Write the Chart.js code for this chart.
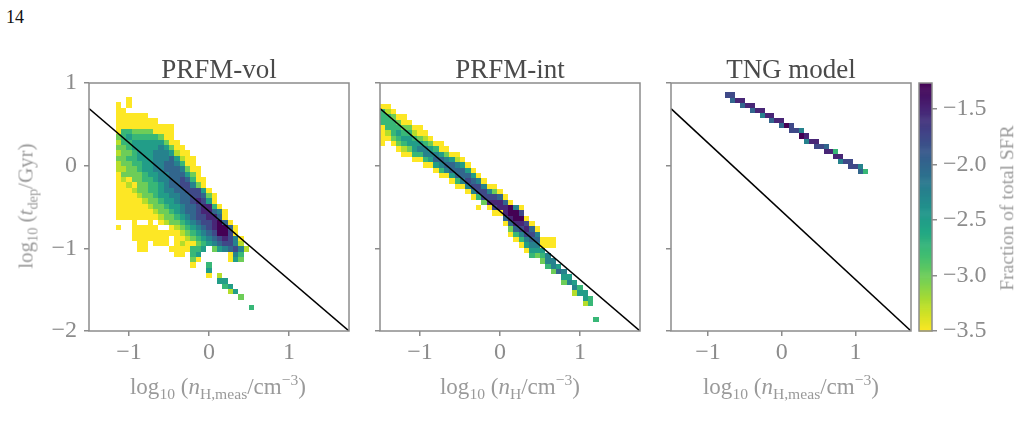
<!DOCTYPE html>
<html>
<head>
<meta charset="utf-8">
<script src="https://cdn.jsdelivr.net/npm/chart.js@4.4.1/dist/chart.umd.min.js"></script>
<style>
  body { margin: 0; background: #fff; width: 1022px; height: 427px; overflow: hidden; position: relative; font-family: "Liberation Serif", serif; }
  canvas { position: absolute; left: 0; top: 0; }
  .txt { position: absolute; white-space: nowrap; line-height: 1; transform: translate(-50%, -50%); }
  .title { font-size: 27px; color: #4a4a4a; }
  .lab { font-size: 23px; color: #9a9a9a; }
  .rot { transform: translate(-50%, -50%) rotate(-90deg); }
  sub, sup { font-size: 0.68em; line-height: 0; }
  sub { vertical-align: -0.35em; }
  sup { vertical-align: 0.55em; }
  #page { position: absolute; left: 6px; top: 7px; font-size: 18px; color: #111; }
</style>
</head>
<body>
<div id="page">14</div>
<canvas id="vol" width="1022" height="427"></canvas>
<canvas id="int" width="1022" height="427"></canvas>
<canvas id="tng" width="1022" height="427"></canvas>
<canvas id="cbar" width="1022" height="427"></canvas>

<div class="txt title" style="left:219px; top:69px;">PRFM-vol</div>
<div class="txt title" style="left:510px; top:69px;">PRFM-int</div>
<div class="txt title" style="left:791px; top:69px;">TNG model</div>

<div class="txt lab rot" style="left:26px; top:206px; font-size:21px;">log<sub>10</sub> (<i>t</i><sub>dep</sub>/Gyr)</div>
<div class="txt lab" style="left:218px; top:386px;">log<sub>10</sub> (<i>n</i><sub>H,meas</sub>/cm<sup>−3</sup>)</div>
<div class="txt lab" style="left:510px; top:386px;">log<sub>10</sub> (<i>n</i><sub>H</sub>/cm<sup>−3</sup>)</div>
<div class="txt lab" style="left:791px; top:386px;">log<sub>10</sub> (<i>n</i><sub>H,meas</sub>/cm<sup>−3</sup>)</div>
<div class="txt lab rot" style="left:1007px; top:208px; font-size:19.5px;">Fraction of total SFR</div>

<script>
// ===== DATA =====
const xTicks = [-1, 0, 1];
const yTicks = [-2, -1, 0, 1];
const cbTicks = [-3.5, -3.0, -2.5, -2.0, -1.5];
const xRange = [-1.5, 1.75];
const yRange = [-2, 1];
const cbRange = [-3.5, -1.265];

// reference relation drawn in every panel
const lineX = [-1.5, 1.75];
const lineY = [0.69, -2.0];

// cell code 0..9 -> log10 fraction of total SFR
const levels = [-3.5, -3.25, -3.0, -2.75, -2.5, -2.25, -2.0, -1.75, -1.5, -1.25];

// bins (data units)
const binW = 1 / 15;
const volGrid = { x0: -1.1667, y0: 0.83, dy: 0.0645 };
const intGrid = { x0: -1.5, y0: 0.75, dy: 0.0645 };
const tngGrid = { x0: -1.5, y0: 0.886, dy: 0.062 };

// PRFM-vol: one string per row (top to bottom), one char per column, '.' = empty
const volRows = [
  "..0",
  "0.0",
  "00",
  "000000",
  "00000000",
  "00000000000",
  "03322220000",
  "23433333200",
  "133444444200",
  "2234444454200",
  "12234445554100",
  "223344455564100",
  "122334455665300",
  "1122344556665200",
  "0222234455666420",
  "01022334556676300",
  "00102233456677520",
  "000122334556677740",
  "0000122344556677620",
  "0000012234456678740",
  "00000012234456678830",
  "000000012234566788650",
  "000000001223456778860",
  "...0..0.01223456778960",
  "0..00000..0123456789960",
  "...00000000012345679970",
  "...0000000.0012345678750",
  "....00.000.0100234567751",
  "....00....0000334.2456751",
  "...........00.34.....053",
  "..............20.....042",
  "..............0..3",
  ".................4",
  ".................0.1",
  "...................44",
  "....................34",
  ".....................14",
  ".......................2",
  "",
  ".........................3"
];

// PRFM-int: [column, first row, codes down the column]
const intCols = [
  [0, 0, "03330000"], [1, 0, "0133310"], [2, 1, "0233320"], [3, 2, "0234320"],
  [4, 2, "00234310"], [5, 3, "0234420"], [6, 4, "0134430"], [7, 4, "0024530"],
  [8, 5, "0135530"], [9, 6, "024540"], [10, 7, "035640"], [11, 7, "0046530"],
  [12, 8, "025650"], [13, 9, "046640"], [14, 9, "0156630"], [15, 10, "046650"],
  [16, 11, "046750"], [17, 12, "046750"], [18, 13, "05773.0"], [19, 14, "05772"],
  [20, 15, "05780"], [21, 15, "027870"], [22, 16, "06880"], [23, 17, "068860"],
  [24, 18, "0998620"], [25, 19, "5998630"], [26, 19, "07987530"], [27, 21, "0787540"],
  [28, 22, "0676543"], [29, 23, "056542"], [30, 25, "00432"], [31, 25, "00.553"],
  [32, 25, "00..552"], [33, 30, "46"], [34, 31, "542"], [35, 32, "45"],
  [36, 33, "451"], [37, 34, "34"], [38, 35, "441"], [39, 36, "33"], [40, 40, "3"]
];

// TNG model: [row, first column, codes along the row]
const tngRows = [
  [0, 11, "77"], [1, 12, "688"], [2, 14, "688"], [3, 16, "688"],
  [4, 18, "588"], [5, 20, "688"], [6, 22, "697"], [7, 24, "775"],
  [8, 26, "98"], [9, 27, "588"], [10, 29, "776"], [11, 31, "883"],
  [12, 33, "88"], [13, 34, "577"], [14, 36, "775"], [15, 38, "63"]
];

// ===== CELLS =====
function volCells() {
  const cells = [];
  volRows.forEach((s, r) => {
    [...s].forEach((ch, c) => {
      if (ch !== ".") cells.push({ x: volGrid.x0 + c * binW, y: volGrid.y0 - r * volGrid.dy, h: volGrid.dy, v: levels[+ch] });
    });
  });
  return cells;
}

function intCells() {
  const cells = [];
  intCols.forEach(([k, r0, s]) => {
    [...s].forEach((ch, i) => {
      if (ch !== ".") cells.push({ x: intGrid.x0 + k * binW, y: intGrid.y0 - (r0 + i) * intGrid.dy, h: intGrid.dy, v: levels[+ch] });
    });
  });
  return cells;
}

function tngCells() {
  const cells = [];
  tngRows.forEach(([r, k0, s]) => {
    [...s].forEach((ch, i) => {
      if (ch !== ".") cells.push({ x: tngGrid.x0 + (k0 + i) * binW, y: tngGrid.y0 - r * tngGrid.dy, h: tngGrid.dy, v: levels[+ch] });
    });
  });
  return cells;
}

// ===== COLOUR MAP (viridis, reversed on the bar) =====
const VIR = ["#440154", "#482475", "#414487", "#355f8d", "#2a788e", "#21918c", "#22a884", "#44bf70", "#7ad151", "#bddf26", "#fde725"];
function hex(c) { return [1, 3, 5].map(i => parseInt(c.substr(i, 2), 16)); }
function viridis(t) {
  t = Math.max(0, Math.min(1, t));
  const p = t * 10, i = Math.min(9, Math.floor(p)), f = p - i;
  const a = hex(VIR[i]), b = hex(VIR[i + 1]);
  const m = a.map((v, j) => Math.round(v + (b[j] - v) * f));
  return `rgb(${m[0]},${m[1]},${m[2]})`;
}
function colorFor(v) {
  const t = (v - cbRange[0]) / (cbRange[1] - cbRange[0]);
  return viridis(1 - t);
}

// ===== PLUGINS =====
const AXIS_GRAY = "#8c8c8c";

function heatPlugin(cells) {
  return {
    id: "heat",
    beforeDatasetsDraw(chart) {
      const { ctx, chartArea: a, scales: { x, y } } = chart;
      ctx.save();
      ctx.beginPath();
      ctx.rect(a.left, a.top, a.right - a.left, a.bottom - a.top);
      ctx.clip();
      cells.forEach(c => {
        const x0 = Math.round(x.getPixelForValue(c.x));
        const x1 = Math.round(x.getPixelForValue(c.x + binW));
        const y0 = Math.round(y.getPixelForValue(c.y));
        const y1 = Math.round(y.getPixelForValue(c.y - c.h));
        ctx.fillStyle = colorFor(c.v);
        ctx.fillRect(x0, y0, x1 - x0, y1 - y0);
      });
      ctx.restore();
    }
  };
}

const framePlugin = {
  id: "frame",
  afterDraw(chart) {
    const { ctx, chartArea: a } = chart;
    ctx.save();
    ctx.strokeStyle = AXIS_GRAY;
    ctx.lineWidth = 1.5;
    ctx.strokeRect(a.left, a.top, a.right - a.left, a.bottom - a.top);
    ctx.restore();
  }
};

const cbarPlugin = {
  id: "cbar",
  beforeDatasetsDraw(chart) {
    const { ctx, chartArea: a, scales: { y } } = chart;
    const steps = 240;
    const span = cbRange[1] - cbRange[0];
    for (let i = 0; i < steps; i++) {
      const v0 = cbRange[0] + span * i / steps;
      const v1 = cbRange[0] + span * (i + 1) / steps;
      const p0 = y.getPixelForValue(v0), p1 = y.getPixelForValue(v1);
      ctx.fillStyle = colorFor((v0 + v1) / 2);
      ctx.fillRect(a.left, p1, a.right - a.left, p0 - p1 + 0.6);
    }
  }
};

// ===== CHARTS =====
const tickFont = { family: "Liberation Serif", size: 24 };
const fmt = v => (v < 0 ? "\u2212" : "") + Math.abs(v);

function makePanel(id, box, cells, showY) {
  const yW = showY ? 60 : 10;
  const xH = 50;
  new Chart(document.getElementById(id), {
    type: "scatter",
    data: {
      datasets: [{
        data: lineX.map((x, i) => ({ x: x, y: lineY[i] })),
        showLine: true,
        borderColor: "#000",
        borderWidth: 1.5,
        pointRadius: 0
      }]
    },
    options: {
      responsive: false,
      animation: false,
      devicePixelRatio: 1,
      events: [],
      layout: { padding: { left: box.l - yW, top: box.t, right: 1022 - box.r, bottom: 427 - box.b - xH } },
      plugins: { legend: { display: false }, tooltip: { enabled: false } },
      scales: {
        x: {
          type: "linear", min: xRange[0], max: xRange[1],
          afterBuildTicks: s => { s.ticks = xTicks.map(v => ({ value: v })); },
          afterFit: s => { s.height = xH; },
          ticks: { font: tickFont, color: AXIS_GRAY, padding: 2, maxRotation: 0, callback: fmt },
          grid: { drawOnChartArea: false, drawTicks: true, tickLength: 5, color: AXIS_GRAY, lineWidth: 1.5 },
          border: { display: false }
        },
        y: {
          type: "linear", min: yRange[0], max: yRange[1],
          afterBuildTicks: s => { s.ticks = yTicks.map(v => ({ value: v })); },
          afterFit: s => { s.width = yW; },
          ticks: { font: tickFont, color: AXIS_GRAY, padding: 7, callback: v => showY ? fmt(v) : "" },
          grid: { drawOnChartArea: false, drawTicks: true, tickLength: 5, color: AXIS_GRAY, lineWidth: 1.5 },
          border: { display: false }
        }
      }
    },
    plugins: [heatPlugin(cells), framePlugin]
  });
}

makePanel("vol", { l: 89, r: 349, t: 83, b: 331 }, volCells(), true);
makePanel("int", { l: 380, r: 640, t: 83, b: 331 }, intCells(), false);
makePanel("tng", { l: 671, r: 911, t: 83, b: 331 }, tngCells(), false);

// colour bar
new Chart(document.getElementById("cbar"), {
  type: "scatter",
  data: { datasets: [{ data: [] }] },
  options: {
    responsive: false,
    animation: false,
    devicePixelRatio: 1,
    events: [],
    layout: { padding: { left: 919, top: 83, right: 1022 - 932 - 80, bottom: 427 - 331 } },
    plugins: { legend: { display: false }, tooltip: { enabled: false } },
    scales: {
      x: { display: false, min: 0, max: 1 },
      y: {
        type: "linear", position: "right", min: cbRange[0], max: cbRange[1],
        afterBuildTicks: s => { s.ticks = cbTicks.map(v => ({ value: v })); },
        afterFit: s => { s.width = 80; },
        ticks: { font: tickFont, color: AXIS_GRAY, padding: 6, callback: v => (v < 0 ? "\u2212" : "") + Math.abs(v).toFixed(1) },
        grid: { drawOnChartArea: false, drawTicks: true, tickLength: 5, color: AXIS_GRAY, lineWidth: 1.5 },
        border: { display: false }
      }
    }
  },
  plugins: [cbarPlugin, framePlugin]
});
</script>
</body>
</html>
